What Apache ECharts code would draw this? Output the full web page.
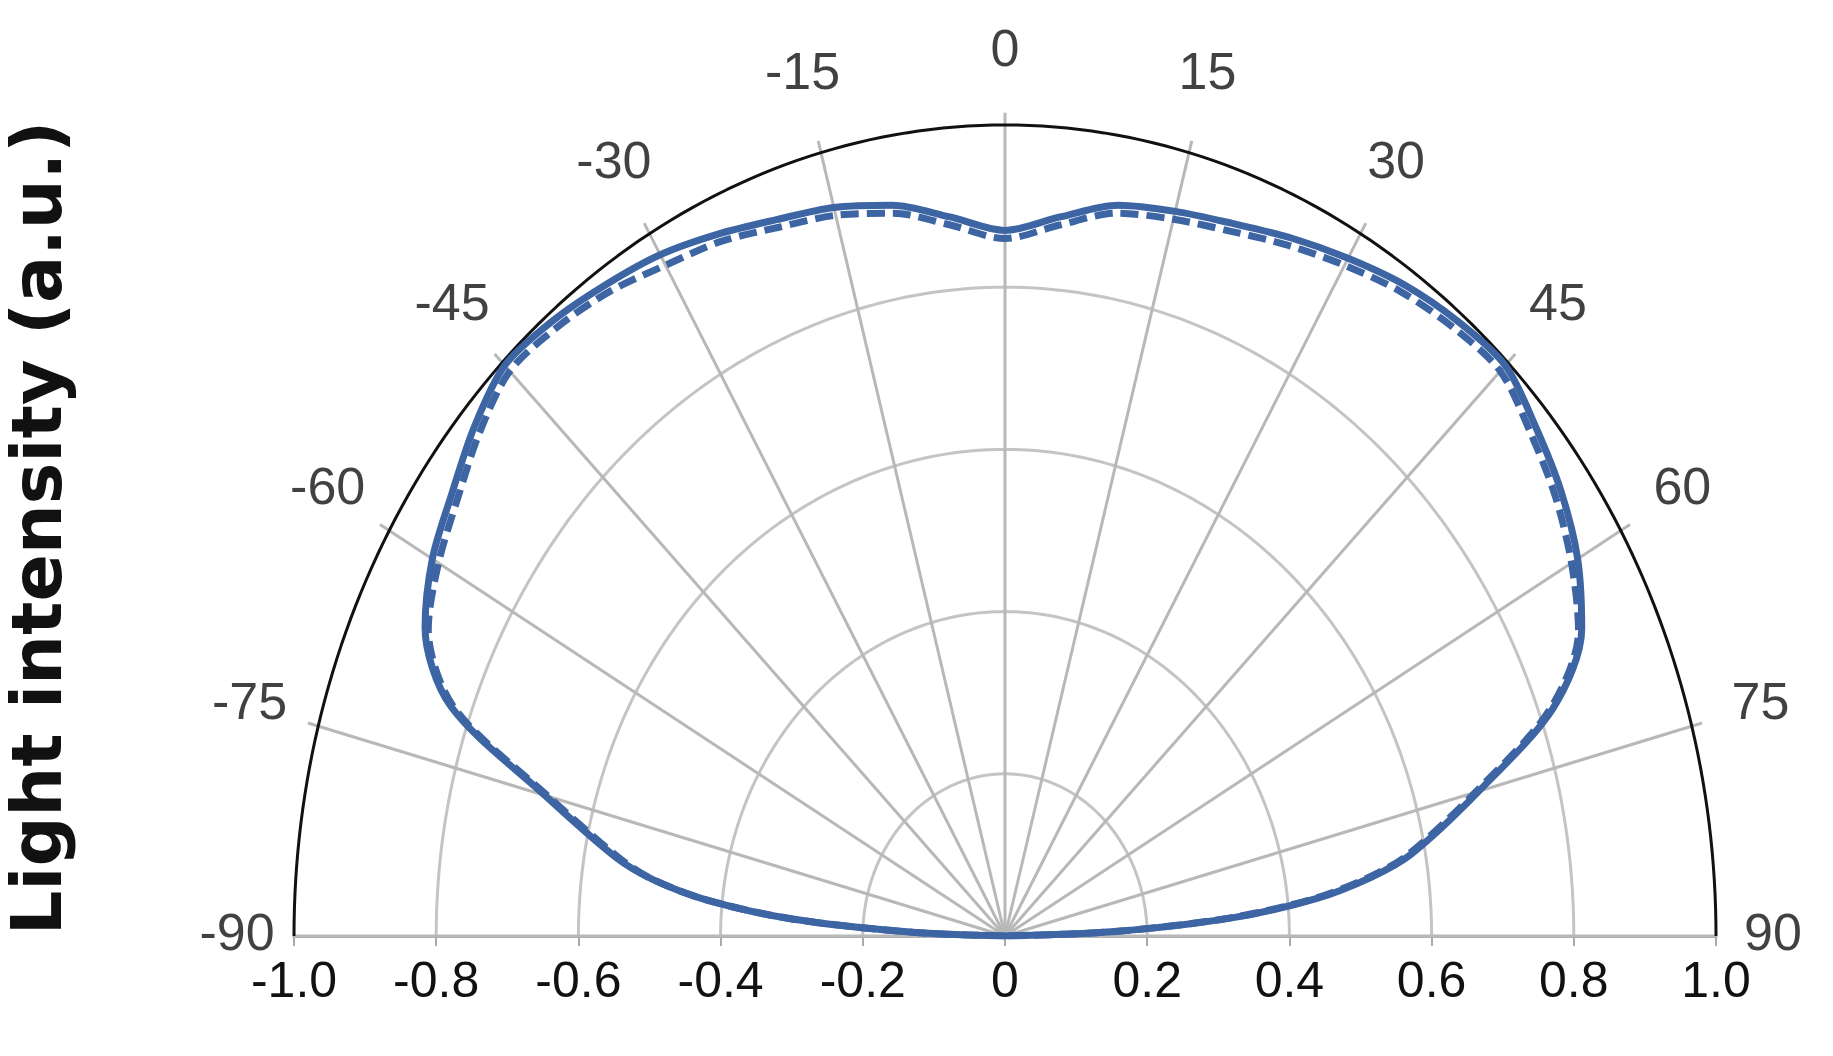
<!DOCTYPE html>
<html><head><meta charset="utf-8">
<script src="https://cdn.jsdelivr.net/npm/echarts@6/dist/echarts.min.js"></script>
<style>html,body{margin:0;background:#fff}#c{width:1833px;height:1056px}</style>
</head><body><div id="c"></div>
<script>
const angles = [-90,-88,-86,-84,-82,-80,-75,-70,-65,-60,-55,-50,-45,-40,-35,-30,-25,-20,-15,-10,-5,0,5,10,15,20,25,30,35,40,45,50,55,60,65,70,75,80,82,84,86,88,90];
const solid  = [0,0.13,0.3,0.42,0.5,0.555,0.67,0.83,0.9,0.93,0.95,0.975,0.995,0.99,0.98,0.97,0.955,0.94,0.93,0.915,0.89,0.87,0.89,0.915,0.925,0.935,0.95,0.965,0.98,0.99,0.995,0.975,0.955,0.93,0.895,0.82,0.69,0.58,0.52,0.44,0.32,0.15,0];
const dashed = [0,0.13,0.3,0.42,0.5,0.55,0.665,0.825,0.895,0.92,0.94,0.965,0.985,0.98,0.97,0.955,0.945,0.93,0.92,0.905,0.88,0.86,0.88,0.905,0.915,0.925,0.94,0.955,0.97,0.98,0.985,0.965,0.945,0.92,0.89,0.815,0.685,0.575,0.515,0.435,0.315,0.15,0];
const rings = [0.2,0.4,0.6,0.8];
const spokeAngles = [-90,-75,-60,-45,-30,-15,0,15,30,45,60,75,90];
const xTicks = [-1.0,-0.8,-0.6,-0.4,-0.2,0,0.2,0.4,0.6,0.8,1.0];

const rad = a => a*Math.PI/180;
const toXY = (a,r) => [r*Math.sin(rad(a)), r*Math.cos(rad(a))];
const arc = r => { const p=[]; for(let a=-90;a<=90;a+=1) p.push(toXY(a,r)); return p; };
const series = [];
rings.forEach(r => series.push({type:'line',data:arc(r),showSymbol:false,silent:true,lineStyle:{color:'#c4c4c4',width:3},z:1}));
series.push({type:'line',data:arc(1),showSymbol:false,silent:true,clip:false,lineStyle:{color:'#111',width:3},z:2});
spokeAngles.forEach(a => series.push({type:'line',data:[[0,0],toXY(a, Math.abs(a)===90?1:1.015)],showSymbol:false,silent:true,clip:false,lineStyle:{color:'#b8b8b8',width:3},z:1}));
series.push({type:'scatter',symbolSize:1,clip:false,silent:true,itemStyle:{color:'rgba(0,0,0,0)'},
  data:spokeAngles.map(a=>{const p=toXY(a,a===0?1.09:(Math.abs(a)===90?1.08:1.1));return {value:p,name:String(a)};}),
  labelLayout:{hideOverlap:false},
  label:{show:true,formatter:p=>p.name,position:'inside',fontSize:52,color:'#111',fontFamily:'Liberation Sans'}});
series.push({type:'line',data:angles.map((a,i)=>toXY(a,dashed[i])),showSymbol:false,smooth:0.3,lineStyle:{color:'#3d64a3',width:7,type:[18,8]},z:5});
series.push({type:'line',data:angles.map((a,i)=>toXY(a,solid[i])),showSymbol:false,smooth:0.3,lineStyle:{color:'#3d64a3',width:7},z:6});

const chart = echarts.init(document.getElementById('c'));
chart.setOption({
  animation:false,
  grid:{left:294,right:117,top:125,bottom:120},
  xAxis:{type:'value',min:-1,max:1,interval:0.2,splitLine:{show:false},
    axisLine:{lineStyle:{color:'#aaa',width:3}},axisTick:{show:true,length:10,lineStyle:{color:'#aaa',width:2}},
    axisLabel:{fontSize:50,color:'#111',margin:22,fontFamily:'Liberation Sans',
      formatter:v=>{const t=xTicks.find(x=>Math.abs(x-v)<1e-6);return t===0?'0':t.toFixed(1);}}},
  yAxis:{type:'value',min:0,max:1,show:false},
  graphic:[{type:'text',left:8,top:'middle',rotation:Math.PI/2,x:20,y:528,
    style:{text:'Light intensity (a.u.)',font:'bold 70px "DejaVu Sans"',fill:'#111',textAlign:'center',textVerticalAlign:'middle'}}],
  series
});
</script></body></html>
